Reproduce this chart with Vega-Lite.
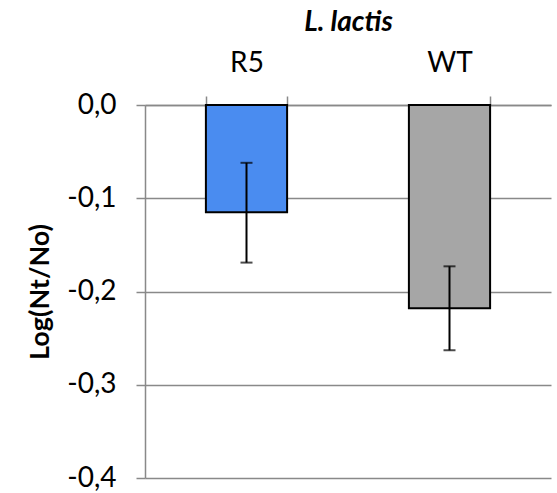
{
  "$schema": "https://vega.github.io/schema/vega-lite/v6.json",
  "width": 406,
  "height": 373,
  "autosize": {"type": "none"},
  "padding": {"left": 145, "top": 105, "right": 6, "bottom": 15},
  "background": "white",
  "config": {
    "view": {"stroke": null},
    "font": "Lato"
  },
  "data": {
    "values": [
      {"group": "R5", "value": -0.115, "lo": -0.169, "hi": -0.062},
      {"group": "WT", "value": -0.218, "lo": -0.263, "hi": -0.173}
    ]
  },
  "encoding": {
    "x": {
      "field": "group",
      "type": "nominal",
      "sort": ["R5", "WT"],
      "scale": {"paddingInner": 0.6, "paddingOuter": 0.3},
      "axis": {
        "orient": "top",
        "title": "L. lactis",
        "titleFont": "Lato",
        "titleFontSize": 28,
        "titleFontWeight": "bold",
        "titleFontStyle": "italic",
        "titleColor": "black",
        "titlePadding": 13,
        "labelFontSize": 28,
        "labelColor": "black",
        "labelAngle": 0,
        "labelPadding": 19,
        "tickBand": "extent",
        "tickSize": 9,
        "tickColor": "#898989",
        "tickWidth": 1.5,
        "domainColor": "#898989",
        "domainWidth": 1.5,
        "grid": false
      }
    }
  },
  "layer": [
    {
      "mark": {"type": "bar", "stroke": "black", "strokeWidth": 2},
      "encoding": {
        "y": {
          "field": "value",
          "type": "quantitative",
          "scale": {"domain": [-0.4, 0], "nice": false, "zero": false},
          "axis": {
            "values": [0, -0.1, -0.2, -0.3, -0.4],
            "labelExpr": "datum.value == 0 ? '0,0' : '-0,' + round(-datum.value * 10)",
            "title": "Log(Nt/No)",
            "titleFontSize": 27,
            "titleFontWeight": "bold",
            "titleColor": "black",
            "titlePadding": 12,
            "labelFontSize": 28,
            "labelColor": "black",
            "labelPadding": 20,
            "tickSize": 9,
            "tickColor": "#898989",
            "tickWidth": 1.5,
            "domainColor": "#898989",
            "domainWidth": 1.5,
            "grid": true,
            "gridColor": "#898989",
            "gridWidth": 1.5
          }
        },
        "y2": {"datum": 0},
        "color": {
          "field": "group",
          "type": "nominal",
          "scale": {"domain": ["R5", "WT"], "range": ["#4a8cf0", "#a6a6a6"]},
          "legend": null
        }
      }
    },
    {
      "mark": {"type": "rule", "color": "black", "strokeWidth": 2},
      "encoding": {
        "y": {"field": "lo", "type": "quantitative"},
        "y2": {"field": "hi"}
      }
    },
    {
      "mark": {"type": "tick", "color": "black", "thickness": 2, "size": 12},
      "encoding": {
        "y": {"field": "lo", "type": "quantitative"}
      }
    },
    {
      "mark": {"type": "tick", "color": "black", "thickness": 2, "size": 12},
      "encoding": {
        "y": {"field": "hi", "type": "quantitative"}
      }
    }
  ]
}
